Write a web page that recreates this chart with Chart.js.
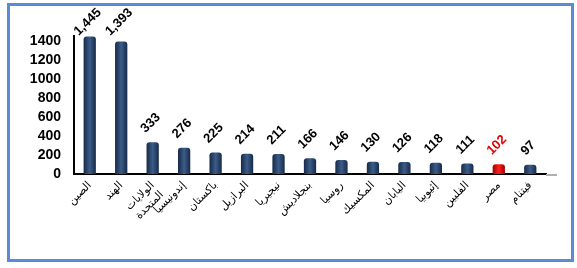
<!DOCTYPE html>
<html>
<head>
<meta charset="utf-8">
<script src="https://cdn.jsdelivr.net/npm/chart.js@4/dist/chart.umd.min.js"></script>
<style>
  html, body { margin: 0; padding: 0; background: #fff; }
  #wrap { position: relative; width: 577px; height: 268px; }
  #frame {
    position: absolute; left: 7px; top: 3px; width: 567px; height: 259px;
    box-sizing: border-box; border: 3px solid #5a8cd6; pointer-events: none;
  }
</style>
</head>
<body>
<div id="wrap">
  <canvas id="myChart" width="577" height="268"></canvas>
  <div id="frame"></div>
</div>
<script>
"use strict";

// data (millions)
var countries = [
  "الصين", "الهند", ["الولايات", "المتحدة"], "إندونيسيا", "باكستان",
  "البرازيل", "نيجيريا", "بنجلاديش", "روسيا", "المكسيك",
  "اليابان", "إثيوبيا", "الفلبين", "مصر", "فيتنام"
];
var population = [1445, 1393, 333, 276, 225, 214, 211, 166, 146, 130, 126, 118, 111, 102, 97];
var yTicks = [0, 200, 400, 600, 800, 1000, 1200, 1400];
var highlighted = "مصر";

function isHighlight(i) {
  return countries[i] === highlighted;
}

// cylinder look for each bar
function barFill(ctx) {
  var chart = ctx.chart;
  var red = isHighlight(ctx.dataIndex);
  if (!chart.chartArea) return red ? "#e00000" : "#243f63";
  var x = chart.scales.x.getPixelForValue(ctx.dataIndex);
  var g = chart.ctx.createLinearGradient(x - 6, 0, x + 6, 0);
  if (red) {
    g.addColorStop(0, "#a00000");
    g.addColorStop(0.5, "#ff2020");
    g.addColorStop(1, "#a00000");
  } else {
    g.addColorStop(0, "#172b4a");
    g.addColorStop(0.5, "#3c5c88");
    g.addColorStop(1, "#172b4a");
  }
  return g;
}

// rotated value labels above the bars
var valueLabels = {
  id: "valueLabels",
  afterDatasetsDraw: function (chart) {
    var c = chart.ctx;
    var meta = chart.getDatasetMeta(0);
    c.save();
    c.font = "bold 13px 'Liberation Sans', Arial, sans-serif";
    c.textAlign = "center";
    c.textBaseline = "middle";
    meta.data.forEach(function (bar, i) {
      var txt = population[i].toLocaleString("en-US");
      var w = c.measureText(txt).width;
      var half = (w + 10) * 0.707 / 2;
      var cy = Math.max(bar.y - 8 - half, 7 + half);
      c.save();
      c.translate(bar.x - 2, cy);
      c.rotate(-Math.PI / 4);
      c.fillStyle = isHighlight(i) ? "#e00000" : "#000";
      c.fillText(txt, 0, 0);
      c.restore();
    });
    // grey tail of the category axis
    var a = chart.chartArea;
    c.strokeStyle = "#b0b0b0";
    c.lineWidth = 2;
    c.beginPath();
    c.moveTo(a.right, a.bottom + 1);
    c.lineTo(a.right + 11, a.bottom + 1);
    c.stroke();
    c.restore();
  }
};

new Chart(document.getElementById("myChart"), {
  type: "bar",
  data: {
    labels: countries,
    datasets: [
      {
        data: population,
        backgroundColor: barFill,
        borderRadius: { topLeft: 3, topRight: 3 },
        borderSkipped: "bottom",
        barPercentage: 0.39,
        categoryPercentage: 1
      }
    ]
  },
  options: {
    responsive: false,
    animation: false,
    layout: { padding: { top: 36, right: 31, bottom: 0, left: 0 } },
    plugins: {
      legend: { display: false },
      tooltip: { enabled: false }
    },
    scales: {
      x: {
        grid: { display: false, drawTicks: false },
        border: { display: true, color: "#000", width: 2 },
        ticks: {
          minRotation: 45,
          maxRotation: 45,
          autoSkip: false,
          padding: 5,
          color: "#000",
          font: { family: "'DejaVu Sans', Arial, sans-serif", size: 11 }
        },
        afterFit: function (s) { s.height = 94; }
      },
      y: {
        min: 0,
        max: 1450,
        grid: { display: false, drawTicks: false },
        border: { display: true, color: "#000", width: 2 },
        ticks: {
          autoSkip: false,
          padding: 13,
          color: "#000",
          font: { family: "'Liberation Sans', Arial, sans-serif", size: 14, weight: "bold" },
          callback: function (v) { return String(v); }
        },
        afterBuildTicks: function (s) {
          s.ticks = yTicks.map(function (v) { return { value: v }; });
        },
        afterFit: function (s) { s.width = 74; }
      }
    }
  },
  plugins: [valueLabels]
});
</script>
</body>
</html>
